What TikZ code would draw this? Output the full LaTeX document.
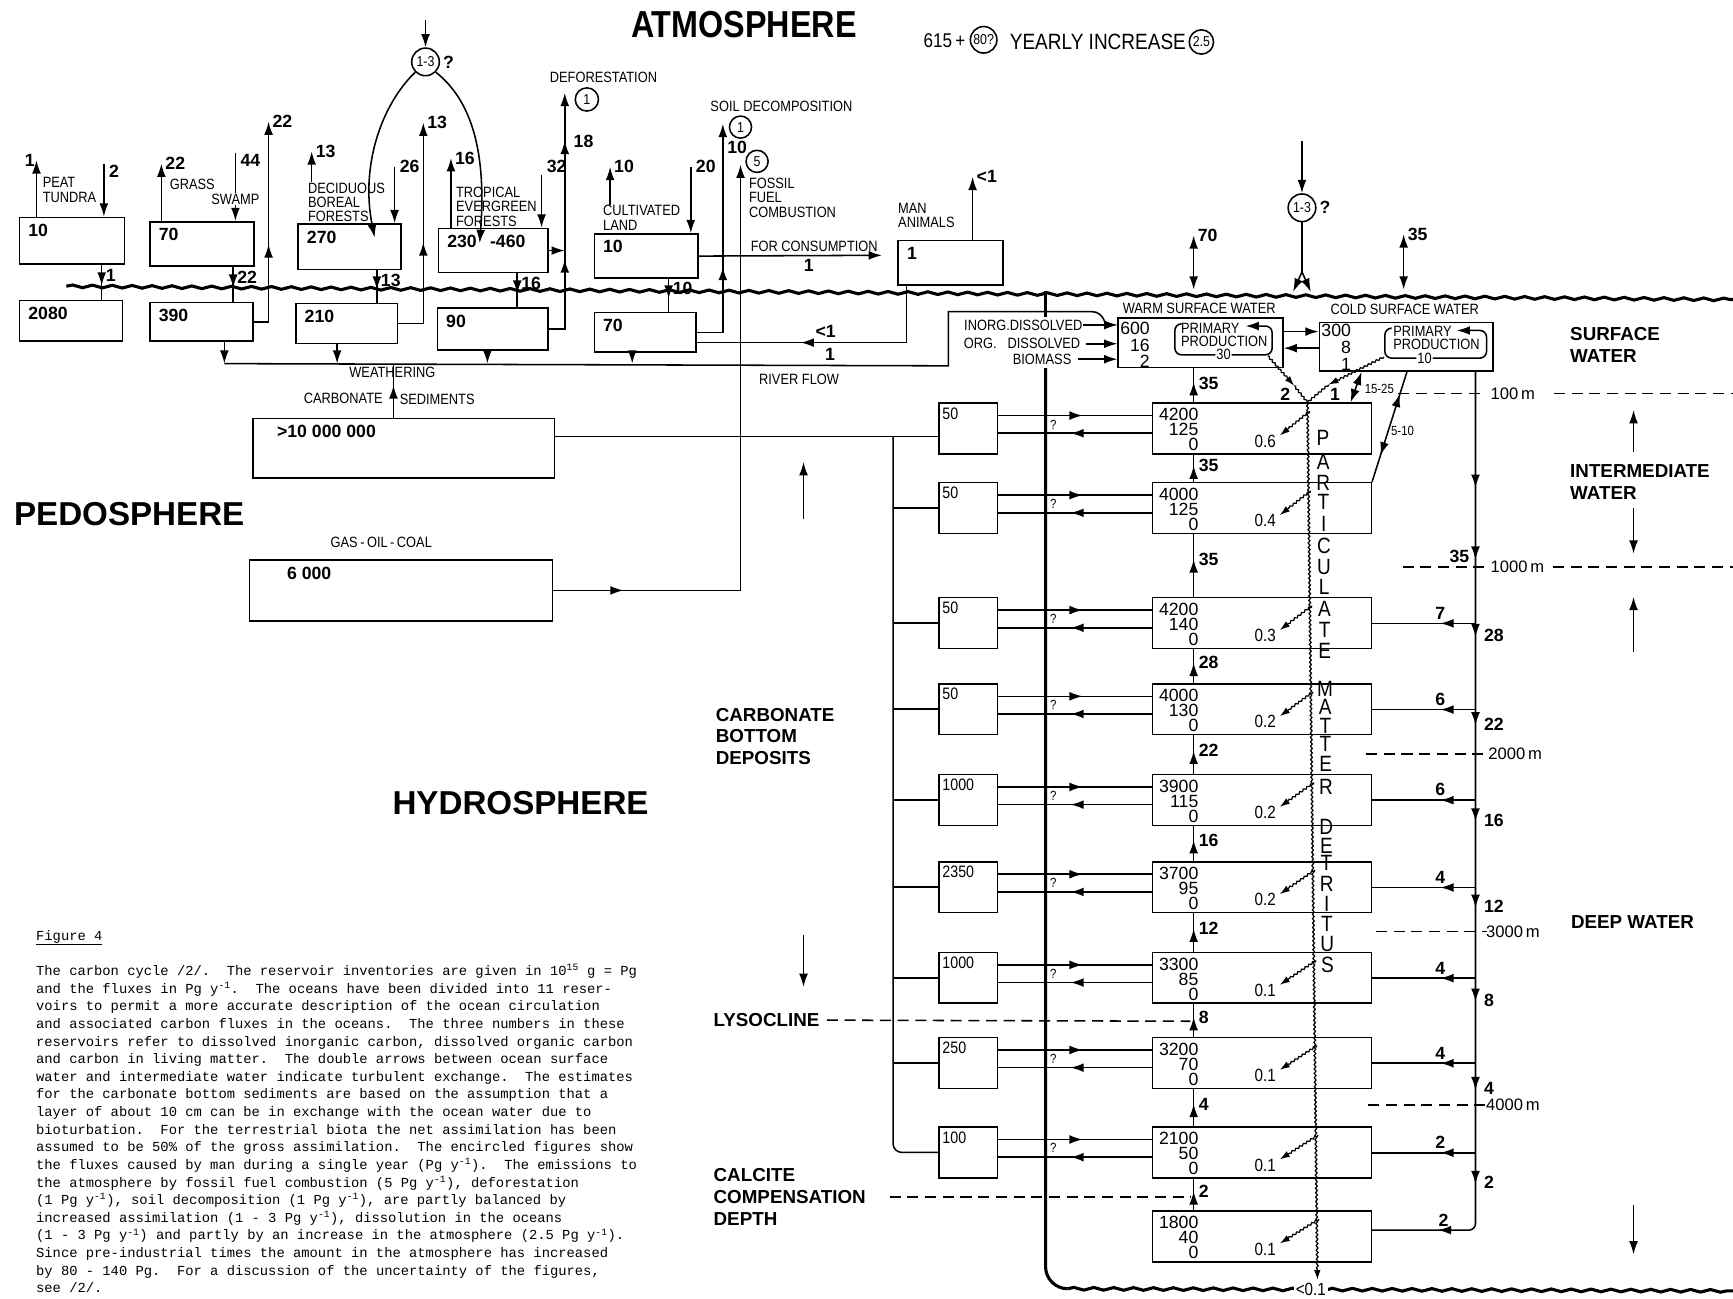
\documentclass[tikz,border=0pt]{standalone}
\usepackage{fontspec}
\setmainfont{Liberation Sans}
\newfontfamily\cond[FakeStretch=0.86]{Liberation Sans}
\newfontfamily\typer{Liberation Mono}
\usetikzlibrary{arrows.meta, decorations.pathmorphing, decorations.markings}
\tikzset{
    > = {Latex[length=12pt, width=8pt]},
    every path/.style = {line width=1.4pt},
    res/.style = {draw, anchor=north west, inner sep=0pt},
    tag/.style = {anchor=north west, inner xsep=8pt, inner ysep=6pt, font=\fontsize{16}{16}\selectfont\bfseries},
    stag/.style = {anchor=north west, inner xsep=3pt, inner ysep=4pt, font=\cond\fontsize{15}{15}\selectfont},
    lbl/.style = {inner sep=0pt, align=left, font=\cond\fontsize{13.5}{13}\selectfont},
    flx/.style = {inner sep=1pt, font=\fontsize{16}{16}\selectfont\bfseries},
    pfx/.style = {inner sep=1pt, font=\cond\fontsize{16}{16}\selectfont},
    inv/.style = {anchor=north east, inner sep=0pt, align=right, font=\fontsize{16}{13.5}\selectfont},
    dep/.style = {inner sep=0pt, anchor=west, font=\fontsize{15}{15}\selectfont},
    zone/.style = {inner sep=0pt, align=left, font=\fontsize{17}{19.5}\selectfont\bfseries},
    title/.style = {inner sep=0pt, font=\fontsize{30}{30}\selectfont\bfseries},
    ring/.style = {draw, circle, inner sep=0pt, minimum size=25pt, font=\cond\fontsize{13}{13}\selectfont},
    ptl/.style = {inner sep=0pt, font=\cond\fontsize{20}{20}\selectfont},
    captext/.style = {inner sep=0pt, align=left, font=\typer\fontsize{12.5}{15.95}\selectfont},
    depth/.style = {dash pattern=on 10pt off 6pt},
    flow/.style = {postaction={decorate, decoration={markings, mark=at position #1 with {\arrow{>}}}}},
    back/.style = {postaction={decorate, decoration={markings, mark=at position #1 with {\arrowreversed{>}}}}},
    wig/.style = {-{Latex[length=9pt, width=6pt]}, line width=1.1pt, decorate, decoration={snake, amplitude=0.8pt, segment length=4pt, post length=9pt}},
    wire/.style = {line width=1.1pt, decorate, decoration={snake, amplitude=0.8pt, segment length=4pt}},
    ground/.style = {line width=2.8pt, decorate, decoration={snake, amplitude=1.2pt, segment length=18pt}},
    sea/.style = {line width=2.8pt}
}

\begin{document}
\begin{tikzpicture}[x=1pt, y=-1pt]
    \fill[white] (0,0) rectangle (1568,1175);
    \useasboundingbox (0,0) rectangle (1568,1175);

    \node[title, font=\cond\fontsize{34}{34}\selectfont\bfseries] (atm) at (673,22) {ATMOSPHERE};
    \node[title, anchor=west] (pedo) at (12,465) {PEDOSPHERE};
    \node[title] (hydro) at (471,727) {HYDROSPHERE};
    \node[pfx, anchor=west, font=\cond\fontsize{18}{18}\selectfont] (stock) at (834,37) {615\,+};
    \node[ring, minimum size=24pt] (rise) at (890,36) {80?};
    \node[pfx, anchor=west, font=\cond\fontsize{20}{20}\selectfont] (yearly) at (912,38) {YEARLY INCREASE};
    \node[ring, minimum size=22pt] (yrise) at (1087,38) {2.5};

    \draw[ground] (60,259) -- (1568,271);

    \node[lbl, anchor=west] (tundral) at (38,172) {PEAT\\TUNDRA};
    \node[lbl] (grassl) at (174,167) {GRASS};
    \node[lbl] (swamp) at (213,180) {SWAMP};
    \node[lbl, anchor=west] (decid) at (278,183) {DECIDUOUS\\BOREAL\\FORESTS};
    \node[lbl, anchor=west] (tropl) at (412,187) {TROPICAL\\EVERGREEN\\FORESTS};
    \node[lbl, anchor=west] (cultl) at (545,197) {CULTIVATED\\LAND};
    \node[lbl, anchor=west] (fosl) at (677,179) {FOSSIL\\FUEL\\COMBUSTION};
    \node[lbl, anchor=west] (manl) at (812,195) {MAN\\ANIMALS};
    \node[lbl] (defl) at (546,70) {DEFORESTATION};
    \node[lbl] (soill) at (707,96) {SOIL DECOMPOSITION};
    \node[lbl] (weath) at (355,337) {WEATHERING};
    \node[lbl, anchor=east] (carbl) at (347,360) {CARBONATE};
    \node[lbl, anchor=west] (sedl) at (361,361) {SEDIMENTS};
    \node[lbl] (gasl) at (345,491) {GAS\,-\,OIL\,-\,COAL};
    \node[lbl] (riverl) at (723,343) {RIVER FLOW};
    \node[flx] (riverf) at (751,321) {1};

    \node[res, minimum width=95pt, minimum height=42pt, label={[tag]north west:10}] (tundra) at (17,196) {};
    \node[res, minimum width=93pt, minimum height=37pt, label={[tag]north west:2080}] (peat) at (17,271) {};
    \node[res, minimum width=94pt, minimum height=40pt, label={[tag]north west:70}] (grass) at (135,200) {};
    \node[res, minimum width=93pt, minimum height=35pt, label={[tag]north west:390}] (grsoil) at (135,273) {};
    \node[res, minimum width=93pt, minimum height=41pt, label={[tag]north west:270}] (boreal) at (269,202) {};
    \node[res, minimum width=92pt, minimum height=36pt, label={[tag]north west:210}] (borsoil) at (267,274) {};
    \node[res, minimum width=99pt, minimum height=40pt, label={[tag]north west:230\hspace{12pt}-460}] (tropic) at (396,206) {};
    \node[res, minimum width=100pt, minimum height=38pt, label={[tag]north west:90}] (trosoil) at (395,278) {};
    \node[res, minimum width=94pt, minimum height=40pt, label={[tag]north west:10}] (cultiv) at (537,211) {};
    \node[res, minimum width=92pt, minimum height=36pt, label={[tag]north west:70}] (cultsoil) at (537,282) {};
    \node[res, minimum width=95pt, minimum height=40pt, label={[tag]north west:1}] (man) at (812,217) {};
    \node[res, minimum width=273pt, minimum height=54pt, label={[tag, xshift=14pt]north west:>10 000 000}] (carbsed) at (228,378) {};
    \node[res, minimum width=274pt, minimum height=55pt, label={[tag, xshift=26pt]north west:6 000}] (fossil) at (225,506) {};

    \coordinate (tu1) at (33,145);
    \coordinate (tu2) at (94,148);
    \coordinate (tu3) at (92,247);
    \draw[->] (tundra.north -| tu1) -- (tu1) node[flx, left] (tu1l) {1};
    \draw[->] (tu2) node[flx, anchor=north west, xshift=3pt] (tu2l) {2} -- (tundra.north -| tu2);
    \draw[flow=0.6] (tundra.south -| tu3) -- (peat.north -| tu3) node[flx, right=2pt, pos=0.3] (tu3l) {1};

    \coordinate (gr1) at (146,148);
    \coordinate (gr2) at (213,138);
    \coordinate (gr3) at (211,249);
    \coordinate (gr4) at (243,110);
    \draw[->] (grass.north -| gr1) -- (gr1) node[flx, right=2pt] (gr1l) {22};
    \draw (gr2) node[flx, anchor=north west, xshift=3pt] (gr2l) {44} -- (swamp.north -| gr2);
    \draw[->] (swamp.south -| gr2) -- (grass.north -| gr2);
    \draw[flow=0.6] (grass.south -| gr3) -- (grsoil.north -| gr3) node[flx, right=2pt, pos=0.3] (gr3l) {22};
    \draw[->, flow=0.43] (grsoil.east) -| (gr4) node[flx, right=2pt] (gr4l) {22};

    \coordinate (bo1) at (282,137);
    \coordinate (bo2) at (357,151);
    \coordinate (bo3) at (341,253);
    \coordinate (bo4) at (383,111);
    \draw[->] (decid.north -| bo1) -- (bo1) node[flx, right=2pt] (bo1l) {13};
    \draw[->] (bo2) node[flx, anchor=west, xshift=3pt] (bo2l) {26} -- (boreal.north -| bo2);
    \draw[flow=0.6] (boreal.south -| bo3) -- (borsoil.north -| bo3) node[flx, right=2pt, pos=0.3] (bo3l) {13};
    \draw[->, flow=0.47] (borsoil.east) -| (bo4) node[flx, right=2pt] (bo4l) {13};

    \coordinate (as0) at (385,18);
    \coordinate (as1) at (339,215);
    \coordinate (as2) at (434,220);
    \node[ring] (assim) at (385,56) {1-3};
    \node[flx, right=1pt] (assimq) at (assim.east) {?};
    \draw[->] (as0) -- (assim.north);
    \draw[->] (assim.south west) .. controls (345,95) and (326,150) .. (as1);
    \draw[->] (assim.south east) .. controls (428,92) and (440,140) .. (as2);

    \coordinate (tr1) at (408,143);
    \coordinate (tr2) at (490,158);
    \coordinate (tr3) at (468,258);
    \coordinate (tr4) at (511,84);
    \draw[->] (tropic.north -| tr1) -- (tr1) node[flx, right=2pt] (tr1l) {16};
    \draw[->] (tr2) node[flx, anchor=south west, xshift=3pt] (tr2l) {32} -- (tropic.north -| tr2);
    \draw[flow=0.6] (tropic.south -| tr3) -- (trosoil.north -| tr3) node[flx, right=2pt, pos=0.3] (tr3l) {16};
    \draw[->] (tropic.east) -- (tropic.east -| tr4);
    \draw[->, flow=0.34, flow=0.81] (trosoil.east) -| (tr4);
    \node[flx] (tr4l) at (528,128) {18};
    \node[ring, minimum size=21pt] (defr) at (531,90) {1};

    \coordinate (cu1) at (552,151);
    \coordinate (cu2) at (625,151);
    \coordinate (cu3) at (605,262);
    \coordinate (cu4) at (654,112);
    \coordinate (cu5) at (798,231);
    \draw[->] (cultl.north -| cu1) -- (cu1) node[flx, right=2pt] (cu1l) {10};
    \draw[->] (cu2) node[flx, anchor=west, xshift=3pt] (cu2l) {20} -- (cultiv.north -| cu2);
    \draw[flow=0.6] (cultiv.south -| cu3) -- (cultsoil.north -| cu3) node[flx, right=2pt, pos=0.3] (cu3l) {10};
    \draw[->, flow=0.39] (cultsoil.east) -| (cu4);
    \node[ring, minimum size=20pt] (soilr) at (670,115) {1};
    \node[flx] (soilf) at (667,133) {10};
    \draw[->] (cultiv.east) -- (cu5) node[lbl, pos=0.63, above=3pt] (consl) {FOR CONSUMPTION} node[flx, pos=0.6, below=2pt] (consf) {1};

    \coordinate (ma1) at (880,160);
    \coordinate (ma2) at (820,310);
    \draw[->] (man.north -| ma1) -- (ma1) node[flx, right=2pt] (ma1l) {<1};
    \draw[flow=0.61] (man.south -| ma2) |- (cultsoil.east |- ma2);
    \node[flx] (ma2l) at (747,300) {<1};

    \coordinate (fo1) at (670,149);
    \draw[->, flow=0.115] (fossil.east) -| (fo1);
    \node[ring, minimum size=20pt] (fosr) at (685,146) {5};

    \coordinate (rv0) at (203,329);
    \coordinate (rv1) at (858,331);
    \coordinate (rv2) at (858,282);
    \coordinate (rv3) at (988,282);
    \draw[->] (grsoil.south -| rv0) -- (rv0);
    \foreach \b/\x in {borsoil/305, trosoil/441, cultsoil/572} {
        \coordinate (rd\b) at (\x,329);
        \draw[->] (\b.south -| rd\b) -- (rd\b);
    }
    \coordinate (we) at (356,329);
    \draw[flow=0.6] (carbsed.north -| we) -- (we);

    \node[res, minimum width=149pt, minimum height=45pt] (warm) at (1011,287) {};
    \node[res, minimum width=157pt, minimum height=44pt] (cold) at (1193,291) {};
    \node[lbl] (warml) at (1085,279) {WARM SURFACE WATER};
    \node[lbl] (coldl) at (1271,280) {COLD SURFACE WATER};
    \node[inv, font=\fontsize{16}{15}\selectfont] (warmn) at (1041,291) {600\\16\\2};
    \node[inv, font=\fontsize{16}{15}\selectfont] (coldn) at (1223,293) {300\\8\\1};
    \node[lbl, anchor=west, font=\cond\fontsize{13.5}{12}\selectfont] (ppw) at (1068,303) {PRIMARY\\PRODUCTION};
    \node[lbl, anchor=west, font=\cond\fontsize{13.5}{12}\selectfont] (ppc) at (1260,306) {PRIMARY\\PRODUCTION};
    \draw[->, rounded corners=6pt] (1068,293) -- (1063,293) -- (1063,321) -- node[lbl, fill=white, inner sep=1pt] (ppwv) {30} (1151,321) -- (1151,295) -- (1127,295);
    \draw[->, rounded corners=6pt] (1258,297) -- (1253,297) -- (1253,324) -- node[lbl, fill=white, inner sep=1pt, pos=0.39] (ppcv) {10} (1345,324) -- (1345,299) -- (1318,299);

    \node[lbl, anchor=east] (inorg) at (980,294) {INORG.DISSOLVED};
    \node[lbl, anchor=east] (orgd) at (978,311) {ORG.\hspace{10pt}DISSOLVED};
    \node[lbl, anchor=east] (bio) at (970,325) {BIOMASS};
    \draw[->] (inorg.east) -- (warm.west |- inorg.east);
    \draw[->] ([xshift=5pt]orgd.east) -- (warm.west |- orgd.east);
    \draw[->] ([xshift=5pt]bio.east) -- (warm.west |- bio.east);
    \draw[->] (rv0) -- (rv1) -- (rv2) -- (rv3) to[out=0, in=180] (warm.west |- inorg.east);

    \coordinate (wc1) at (1176,300);
    \coordinate (wc2) at (1176,315);
    \draw[->] (warm.east |- wc1) -- (cold.west |- wc1);
    \draw[->] (cold.west |- wc2) -- (warm.east |- wc2);

    \coordinate (ex1) at (1080,262);
    \coordinate (ex2) at (1080,213);
    \coordinate (ex3) at (1270,262);
    \coordinate (ex4) at (1270,212);
    \draw[<->] (ex1) -- (ex2) node[flx, right=2pt] (ex2l) {70};
    \draw[<->] (ex3) -- (ex4) node[flx, right=2pt] (ex4l) {35};

    \coordinate (oi0) at (1178,128);
    \coordinate (oi1) at (1178,246);
    \coordinate (oi2) at (1170,264);
    \coordinate (oi3) at (1186,264);
    \node[ring] (oinv) at (1178,188) {1-3};
    \node[flx, right=1pt] (oinvq) at (oinv.east) {?};
    \draw[->] (oi0) -- (oinv.north);
    \draw (oinv.south) -- (oi1);
    \draw[->] (oi1) -- (oi2);
    \draw[->] (oi1) -- (oi3);

    \foreach \i/\ty/\dic/\doc/\dtr in {1/364/4200/125/0.6, 2/436/4000/125/0.4, 3/540/4200/140/0.3, 4/618/4000/130/0.2, 5/700/3900/115/0.2, 6/779/3700/95/0.2, 7/861/3300/85/0.1, 8/938/3200/70/0.1, 9/1019/2100/50/0.1, 10/1095/1800/40/0.1} {
        \node[res, minimum width=198pt, minimum height=46pt] (o\i) at (1042,\ty) {};
        \node[inv] (num\i) at (1085,\ty+5) {\dic\\\doc\\0};
        \coordinate (pa\i) at ({1185+(\ty-364)/88},{\ty+8});
        \coordinate (pb\i) at (1158,{\ty+30});
        \draw[wig] (pa\i) -- (pb\i);
        \node[pfx, anchor=east] (par\i) at (1156,{\ty+35}) {\dtr};
    }

    \foreach \i/\ty/\sv in {1/364/50, 2/436/50, 3/540/50, 4/618/50, 5/700/1000, 6/779/2350, 7/861/1000, 8/938/250, 9/1019/100} {
        \node[res, minimum width=53pt, minimum height=46pt, label={[stag]north west:\sv}] (s\i) at (849,\ty) {};
        \path (s\i.north east) ++(0,12) coordinate (ua\i) ++(0,16) coordinate (la\i);
        \draw[flow=0.55] (ua\i) -- (ua\i -| o\i.west);
        \draw[flow=0.53] (la\i -| o\i.west) -- (la\i);
        \node[lbl, font=\cond\fontsize{12}{12}\selectfont] (q\i) at (953,{\ty+20}) {?};
    }

    \coordinate (cb) at (808,395);
    \draw (carbsed.east |- cb) -- (s1.west |- cb);
    \draw[rounded corners=8pt] (cb) -- (s9.west -| cb) -- (s9.west);
    \foreach \i in {2,...,8}
        \draw (s\i.west -| cb) -- (s\i.west);

    \coordinate (up) at (1080,350);
    \draw[flow=0.6] (o1.north -| up) -- (warm.south -| up) node[flx, right=3pt, pos=0.55] (upl1) {35};
    \foreach \i/\j/\v in {2/1/35, 3/2/35, 4/3/28, 5/4/22, 6/5/16, 7/6/12, 8/7/8, 9/8/4, 10/9/2}
        \draw[flow=0.6] (o\i.north -| up) -- (o\j.south -| up) node[flx, right=3pt, pos=0.6] (upl\i) {\v};

    \coordinate (dw) at (1335,335);
    \coordinate (dw10) at (1335,1113);
    \draw[rounded corners=6pt, postaction={decorate, decoration={markings,
        mark=at position 105pt with {\arrow{>}},
        mark=at position 170pt with {\arrow{>}},
        mark=at position 240pt with {\arrow{>}},
        mark=at position 320pt with {\arrow{>}},
        mark=at position 407pt with {\arrow{>}},
        mark=at position 485pt with {\arrow{>}},
        mark=at position 570pt with {\arrow{>}},
        mark=at position 650pt with {\arrow{>}},
        mark=at position 735pt with {\arrow{>}},
        mark=at position 808pt with {\arrow{>}}}}] (cold.south -| dw) -- (dw10) -- (o10.east |- dw10);
    \node[flx, anchor=east] (dwl1) at (1331,503) {35};
    \foreach \y/\v [count=\k] in {575/28, 655/22, 742/16, 820/12, 905/8, 985/4, 1070/2}
        \node[flx, anchor=west] (dwn\k) at (1341,\y) {\v};
    \foreach \i/\v in {3/7, 4/6, 5/6, 6/4, 7/4, 8/4, 9/2} {
        \path (o\i.north east) ++(0,24) coordinate (rb\i);
        \draw[flow=0.34] (rb\i -| dw) -- (rb\i) node[flx, pos=0.34, above=2pt] (rbl\i) {\v};
    }
    \node[flx, above=2pt] (rbl10) at (1306,1113) {2};

    \coordinate (cs1) at (1232,335);
    \coordinate (cs2) at (1222,364);
    \coordinate (cs3) at (1273,335);
    \draw[<->] (cold.south -| cs1) -- (o1.north -| cs2);
    \draw[back=0.2, flow=0.76] (cold.south -| cs3) -- (o2.north east);
    \node[lbl, font=\cond\fontsize{12}{12}\selectfont] (csl1) at (1248,352) {15-25};
    \node[lbl, font=\cond\fontsize{12}{12}\selectfont] (csl2) at (1269,390) {5-10};

    \coordinate (pw0) at (1147,322);
    \coordinate (pw1) at (1171,349);
    \coordinate (pc0) at (1252,323);
    \coordinate (pc1) at (1202,348);
    \coordinate (pt0) at (1183,364);
    \coordinate (pt1) at (1192,1158);
    \draw[wig] (pw0) -- (pw1);
    \draw[wire] (pw1) -- (pt0);
    \draw[wig] (pc0) -- (pc1);
    \draw[wire] (pc1) -- (pt0);
    \draw[wig] (pt0) -- (pt1);
    \node[flx] (pwl) at (1163,357) {2};
    \node[flx] (pcl) at (1208,357) {1};
    \foreach \c/\y [count=\k] in {P/396, A/418, R/437, T/454, I/474, C/494, U/513, L/531, A/551, T/570, E/589, M/623, A/640, T/657, T/673, E/691, R/712, D/748, E/765, T/781, R/800, I/818, T/836, U/854, S/873}
        \node[ptl] (pm\k) at ({1197+(\y-396)/120},\y) {\c};

    \draw[sea] (946,263) -- (946,287);
    \draw[sea] (946,333) -- (946,1146) arc[start angle=180, end angle=90, radius=20];
    \draw[ground] (966,1166) -- (1568,1168);
    \node[pfx, fill=white, inner sep=2pt] (bot) at (1186,1167) {<0.1};

    \draw[depth] (1265,356) -- (1345,356);
    \node[dep] (m100) at (1348,356) {100\,m};
    \draw[depth] (1406,356) -- (1568,356);
    \draw[depth] (1269,513) -- (1345,513);
    \node[dep] (m1000) at (1348,513) {1000\,m};
    \draw[depth] (1405,513) -- (1568,513);
    \draw[depth] (1236,682) -- (1345,682);
    \node[dep] (m2000) at (1346,682) {2000\,m};
    \draw[depth] (1245,843) -- (1345,843);
    \node[dep] (m3000) at (1344,843) {3000\,m};
    \draw[depth] (1238,1000) -- (1345,1000);
    \node[dep] (m4000) at (1344,1000) {4000\,m};

    \node[zone, anchor=west] (surf) at (1420,312) {SURFACE\\WATER};
    \node[zone, anchor=west] (inter) at (1420,436) {INTERMEDIATE\\WATER};
    \node[zone] (deep) at (1477,834) {DEEP WATER};
    \coordinate (za0) at (1478,409);
    \coordinate (za1) at (1478,371);
    \coordinate (za2) at (1478,460);
    \coordinate (za3) at (1478,501);
    \coordinate (za4) at (1478,590);
    \coordinate (za5) at (1478,540);
    \coordinate (za6) at (1478,1090);
    \coordinate (za7) at (1478,1135);
    \draw[->] (za0) -- (za1);
    \draw[->] (za2) -- (za3);
    \draw[->] (za4) -- (za5);
    \draw[->] (za6) -- (za7);

    \node[zone, anchor=west] (cbd) at (647,666) {CARBONATE\\BOTTOM\\DEPOSITS};
    \coordinate (cz0) at (727,470);
    \coordinate (cz1) at (727,418);
    \coordinate (cz2) at (727,846);
    \coordinate (cz3) at (727,893);
    \draw[->] (cz0) -- (cz1);
    \draw[->] (cz2) -- (cz3);
    \node[zone, anchor=west] (lyso) at (645,923) {LYSOCLINE};
    \draw[depth] ([xshift=6pt]lyso.east) -- (1077,924);
    \node[zone, anchor=west] (ccd) at (645,1083) {CALCITE\\COMPENSATION\\DEPTH};
    \draw[depth] (805,1083) -- (1078,1083);

    \node[captext, anchor=north west] (caption) at (32,841) {\underline{Figure 4}\\[15.95pt]
        The carbon cycle /2/.\ \ The reservoir inventories are given in 10\textsuperscript{15} g = Pg\\
        and the fluxes in Pg y\textsuperscript{-1}.\ \ The oceans have been divided into 11 reser-\\
        voirs to permit a more accurate description of the ocean circulation\\
        and associated carbon fluxes in the oceans.\ \ The three numbers in these\\
        reservoirs refer to dissolved inorganic carbon, dissolved organic carbon\\
        and carbon in living matter.\ \ The double arrows between ocean surface\\
        water and intermediate water indicate turbulent exchange.\ \ The estimates\\
        for the carbonate bottom sediments are based on the assumption that a\\
        layer of about 10 cm can be in exchange with the ocean water due to\\
        bioturbation.\ \ For the terrestrial biota the net assimilation has been\\
        assumed to be 50\% of the gross assimilation.\ \ The encircled figures show\\
        the fluxes caused by man during a single year (Pg y\textsuperscript{-1}).\ \ The emissions to\\
        the atmosphere by fossil fuel combustion (5 Pg y\textsuperscript{-1}), deforestation\\
        (1 Pg y\textsuperscript{-1}), soil decomposition (1 Pg y\textsuperscript{-1}), are partly balanced by\\
        increased assimilation (1 - 3 Pg y\textsuperscript{-1}), dissolution in the oceans\\
        (1 - 3 Pg y\textsuperscript{-1}) and partly by an increase in the atmosphere (2.5 Pg y\textsuperscript{-1}).\\
        Since pre-industrial times the amount in the atmosphere has increased\\
        by 80 - 140 Pg.\ \ For a discussion of the uncertainty of the figures,\\
        see /2/.};
\end{tikzpicture}
\end{document}
